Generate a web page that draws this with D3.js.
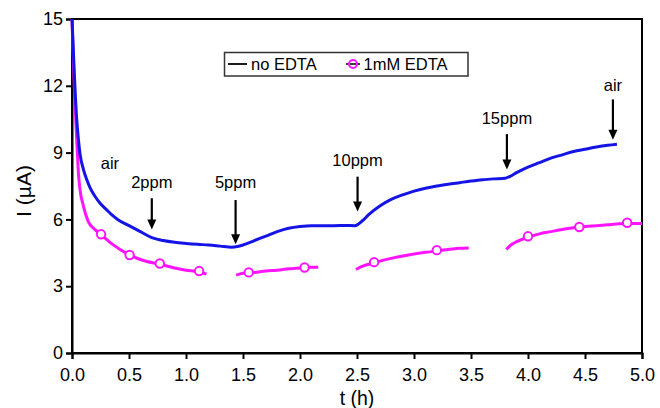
<!DOCTYPE html>
<html>
<head>
<meta charset="utf-8">
<script src="https://cdn.jsdelivr.net/npm/d3@7"></script>
<style>
  html, body { margin: 0; padding: 0; background: #fff; }
  svg { display: block; font-family: "Liberation Sans", Arial, sans-serif; }
</style>
</head>
<body>
<svg id="chart" width="660" height="408"></svg>
<script>
// Current response I (µA) versus time t (h), with and without EDTA.
const noEdta = [
  [0.0, 15.0], [0.01, 13.8], [0.02, 12.6], [0.03, 11.5], [0.04, 10.6], [0.056, 9.6],
  [0.07, 8.95], [0.1, 8.25], [0.13, 7.78], [0.16, 7.4], [0.2, 7.05], [0.25, 6.7],
  [0.3, 6.45], [0.35, 6.2], [0.4, 6.0], [0.5, 5.72], [0.6, 5.45], [0.7, 5.18],
  [0.8, 5.05], [0.9, 4.97], [1.0, 4.92], [1.1, 4.88], [1.2, 4.85], [1.3, 4.8],
  [1.4, 4.75], [1.45, 4.78], [1.5, 4.85], [1.6, 5.05], [1.7, 5.25], [1.8, 5.45],
  [1.9, 5.6], [2.0, 5.68], [2.1, 5.72], [2.2, 5.72], [2.3, 5.72], [2.4, 5.73],
  [2.48, 5.72], [2.55, 5.95], [2.6, 6.2], [2.7, 6.6], [2.8, 6.9], [2.9, 7.1],
  [3.0, 7.27], [3.1, 7.4], [3.2, 7.5], [3.3, 7.58], [3.4, 7.65], [3.5, 7.72],
  [3.6, 7.78], [3.7, 7.82], [3.8, 7.85], [3.85, 7.95], [3.9, 8.1], [4.0, 8.35],
  [4.1, 8.55], [4.2, 8.75], [4.3, 8.9], [4.4, 9.05], [4.5, 9.15], [4.6, 9.25],
  [4.7, 9.33], [4.78, 9.38]
];

// 1mM EDTA trace, recorded in four separate runs.
const edtaRun1 = [
  [0.0, 15.0], [0.01, 13.5], [0.02, 12.0], [0.03, 10.8], [0.04, 9.7], [0.047, 9.0],
  [0.056, 8.1], [0.07, 7.35], [0.1, 6.6], [0.143, 5.9], [0.2, 5.55], [0.26, 5.3],
  [0.35, 4.9], [0.5, 4.42], [0.6, 4.2], [0.77, 3.98], [0.9, 3.82], [1.0, 3.72],
  [1.1, 3.65], [1.18, 3.55]
];
const edtaRun2 = [
  [1.44, 3.5], [1.5, 3.58], [1.6, 3.62], [1.7, 3.68], [1.8, 3.72], [1.9, 3.78],
  [2.0, 3.82], [2.1, 3.85], [2.16, 3.85]
];
const edtaRun3 = [
  [2.49, 3.75], [2.55, 3.9], [2.65, 4.05], [2.8, 4.25], [2.95, 4.4], [3.1, 4.52],
  [3.2, 4.58], [3.3, 4.65], [3.4, 4.7], [3.48, 4.72]
];
const edtaRun4 = [
  [3.81, 4.65], [3.85, 4.85], [3.9, 5.0], [4.0, 5.2], [4.1, 5.35], [4.2, 5.45],
  [4.3, 5.55], [4.4, 5.62], [4.5, 5.68], [4.6, 5.72], [4.7, 5.76], [4.8, 5.8],
  [4.9, 5.82], [5.0, 5.82]
];
const edtaMarkers = [
  [0.255, 5.33], [0.505, 4.4], [0.77, 4.02], [1.115, 3.68], [1.55, 3.62], [2.04, 3.84],
  [2.65, 4.08], [3.2, 4.62], [4.0, 5.24], [4.45, 5.66], [4.87, 5.85]
];

// Gas-exposure events: label, time, arrow tail and head (µA).
const eventLabels = ["air", "2ppm", "5ppm", "10ppm", "15ppm", "air"];
const eventTimes  = [0.333, 0.70, 1.435, 2.505, 3.815, 4.745];
const arrowTails  = [null, 6.95, 6.87, 7.92, 9.83, 11.39];
const arrowHeads  = [null, 5.55, 4.88, 6.36, 8.24, 9.58];
const labelLevels = [8.25, 7.4, 7.4, 8.4, 10.3, 11.75];

const xTicks = [0, 0.5, 1, 1.5, 2, 2.5, 3, 3.5, 4, 4.5, 5];
const yTicks = [0, 3, 6, 9, 12, 15];
const seriesNames = ["no EDTA", "1mM EDTA"];

const svg = d3.select("#chart");
const plotLeft = 72, plotRight = 642, plotTop = 19, plotBottom = 353;

const x = d3.scaleLinear().domain([0, 5]).range([plotLeft, plotRight]);
const y = d3.scaleLinear().domain([0, 15]).range([plotBottom, plotTop]);

const blue = "#1414e6", magenta = "#ff14ff";

// Frame
svg.append("rect")
  .attr("x", plotLeft).attr("y", plotTop)
  .attr("width", plotRight - plotLeft).attr("height", plotBottom - plotTop)
  .attr("fill", "none").attr("stroke", "#000").attr("stroke-width", 2);

// Axes
const xAxis = svg.append("g")
  .attr("transform", `translate(0,${plotBottom})`)
  .call(d3.axisBottom(x).tickValues(xTicks).tickFormat(d3.format(".1f"))
        .tickSize(6).tickPadding(9));
const yAxis = svg.append("g")
  .attr("transform", `translate(${plotLeft},0)`)
  .call(d3.axisLeft(y).tickValues(yTicks).tickFormat(d3.format("d"))
        .tickSize(6).tickPadding(3));
[xAxis, yAxis].forEach(g => {
  g.select(".domain").attr("stroke-width", 2);
  g.selectAll(".tick line").attr("stroke-width", 2);
  g.selectAll(".tick text").attr("font-size", 18).attr("fill", "#000")
    .attr("font-family", "Liberation Sans, Arial, sans-serif");
});

// Axis titles
svg.append("text")
  .attr("x", (plotLeft + plotRight) / 2).attr("y", 405)
  .attr("text-anchor", "middle").attr("font-size", 19.5).text("t (h)");
svg.append("text")
  .attr("transform", `translate(31,${(plotTop + plotBottom) / 2 + 5}) rotate(-90)`)
  .attr("text-anchor", "middle").attr("font-size", 21).text("I (µA)");

// Traces
const line = d3.line().x(d => x(d[0])).y(d => y(d[1])).curve(d3.curveMonotoneX);
const plot = svg.append("g");
[edtaRun1, edtaRun2, edtaRun3, edtaRun4].forEach(run => {
  plot.append("path").datum(run).attr("d", line)
    .attr("fill", "none").attr("stroke", magenta).attr("stroke-width", 3)
    .attr("stroke-linejoin", "round");
});
plot.append("path").datum(noEdta).attr("d", line)
  .attr("fill", "none").attr("stroke", blue).attr("stroke-width", 3)
  .attr("stroke-linejoin", "round");
plot.selectAll("circle.m").data(edtaMarkers).join("circle")
  .attr("class", "m")
  .attr("cx", d => x(d[0])).attr("cy", d => y(d[1])).attr("r", 4.2)
  .attr("fill", "#fff").attr("stroke", magenta).attr("stroke-width", 2);

// Event annotations
const events = eventLabels.map((label, i) => ({
  label, t: eventTimes[i], tail: arrowTails[i], head: arrowHeads[i], level: labelLevels[i]
}));
const ann = svg.append("g");
events.forEach(e => {
  ann.append("text")
    .attr("x", x(e.t)).attr("y", y(e.level))
    .attr("text-anchor", "middle").attr("font-size", 16.5).text(e.label);
  if (e.tail !== null) {
    const xs = x(e.t), y0 = y(e.tail), y1 = y(e.head);
    ann.append("line")
      .attr("x1", xs).attr("x2", xs).attr("y1", y0).attr("y2", y1 - 8)
      .attr("stroke", "#000").attr("stroke-width", 2.2);
    ann.append("path")
      .attr("d", `M${xs - 4.5},${y1 - 10}L${xs + 4.5},${y1 - 10}L${xs},${y1}Z`)
      .attr("fill", "#000");
  }
});

// Legend
const lg = svg.append("g");
lg.append("rect")
  .attr("x", 224.5).attr("y", 52.5).attr("width", 243.5).attr("height", 23.5)
  .attr("fill", "#fff").attr("stroke", "#333").attr("stroke-width", 1.5);
lg.append("line")
  .attr("x1", 228).attr("x2", 247).attr("y1", 64).attr("y2", 64)
  .attr("stroke", "#000").attr("stroke-width", 1.8);
lg.append("text").attr("x", 251).attr("y", 70).attr("font-size", 16.5).text(seriesNames[0]);
lg.append("line")
  .attr("x1", 346).attr("x2", 360).attr("y1", 64).attr("y2", 64)
  .attr("stroke", "#000").attr("stroke-width", 1.5);
lg.append("circle")
  .attr("cx", 353).attr("cy", 64).attr("r", 4)
  .attr("fill", "none").attr("stroke", magenta).attr("stroke-width", 2);
lg.append("text").attr("x", 363.5).attr("y", 70).attr("font-size", 16.5).text(seriesNames[1]);
</script>
</body>
</html>
